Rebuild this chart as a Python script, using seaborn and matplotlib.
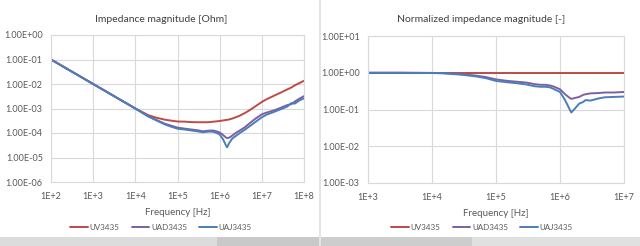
import numpy as np
import pandas as pd
import matplotlib
matplotlib.use("Agg")
import matplotlib.pyplot as plt
import matplotlib.ticker as mticker
from matplotlib.patches import Rectangle
from matplotlib.lines import Line2D
import seaborn as sns

# ---------------- data ----------------
series_names = ["UV3435", "UAD3435", "UAJ3435"]

freq_left = [1e2, 1e3, 1e4, 2e4, 3e4, 5e4, 7e4, 1e5, 1.5e5, 2e5, 3e5, 4e5, 5e5, 6e5,
             7e5, 8e5, 1e6, 1.2e6, 1.4e6, 1.5e6, 1.7e6, 2e6, 2.5e6, 3e6, 4e6, 5e6,
             7e6, 1e7, 1.3e7, 2e7, 3e7, 4e7, 5e7, 6e7, 8e7, 1e8]
z_uv = [0.1, 0.01, 1.0e-3, 5.4e-4, 4.3e-4, 3.5e-4, 3.2e-4, 2.95e-4, 2.9e-4, 2.8e-4,
        2.75e-4, 2.75e-4, 2.75e-4, 2.8e-4, 2.9e-4, 2.95e-4, 3.1e-4, 3.25e-4, 3.4e-4,
        3.45e-4, 3.6e-4, 3.9e-4, 4.5e-4, 5.1e-4, 6.6e-4, 8.3e-4, 1.22e-3, 1.85e-3,
        2.4e-3, 3.4e-3, 4.7e-3, 6.0e-3, 7.2e-3, 8.7e-3, 1.12e-2, 1.35e-2]
z_uad = [0.1, 0.01, 1.0e-3, 4.9e-4, 3.55e-4, 2.4e-4, 2.0e-4, 1.66e-4, 1.5e-4, 1.41e-4,
         1.29e-4, 1.17e-4, 1.23e-4, 1.26e-4, 1.26e-4, 1.2e-4, 1.05e-4, 8.3e-5, 6.6e-5,
         6.2e-5, 6.5e-5, 7.9e-5, 1.05e-4, 1.26e-4, 1.74e-4, 2.4e-4, 3.8e-4, 5.8e-4,
         6.8e-4, 8.5e-4, 1.12e-3, 1.38e-3, 1.5e-3, 1.9e-3, 2.6e-3, 3.2e-3]
z_uaj = [0.1, 0.01, 1.0e-3, 4.8e-4, 3.4e-4, 2.25e-4, 1.82e-4, 1.5e-4, 1.38e-4, 1.29e-4,
         1.17e-4, 1.07e-4, 1.12e-4, 1.15e-4, 1.12e-4, 1.05e-4, 8.7e-5, 5.6e-5, 3.2e-5,
         2.6e-5, 4.0e-5, 6.0e-5, 7.9e-5, 1.0e-4, 1.38e-4, 1.82e-4, 2.8e-4, 4.4e-4,
         5.6e-4, 7.4e-4, 9.8e-4, 1.2e-3, 1.66e-3, 1.58e-3, 2.2e-3, 2.6e-3]

freq_right = [1e3, 3e3, 1e4, 1.5e4, 2e4, 3e4, 5e4, 7e4, 1e5, 1.5e5, 2e5, 3e5, 4e5, 5e5,
              6e5, 7e5, 8e5, 1e6, 1.2e6, 1.4e6, 1.5e6, 1.7e6, 2e6, 2.3e6, 2.5e6, 3e6,
              4e6, 5e6, 7e6, 1e7]
n_uv = [1.0] * 30
n_uad = [1.0, 1.0, 0.99, 0.977, 0.955, 0.91, 0.83, 0.76, 0.66, 0.60, 0.575, 0.54, 0.49,
         0.47, 0.47, 0.45, 0.42, 0.355, 0.26, 0.21, 0.195, 0.205, 0.22, 0.25, 0.26,
         0.275, 0.28, 0.29, 0.29, 0.30]
n_uaj = [1.0, 1.0, 0.985, 0.966, 0.93, 0.88, 0.79, 0.71, 0.60, 0.55, 0.525, 0.48, 0.43,
         0.415, 0.415, 0.40, 0.36, 0.30, 0.18, 0.105, 0.083, 0.105, 0.145, 0.16, 0.18,
         0.175, 0.20, 0.215, 0.22, 0.225]

left_title = "Impedance magnitude [Ohm]"
right_title = "Normalized impedance magnitude [-]"
x_label = "Frequency [Hz]"
left_xticks = [1e2, 1e3, 1e4, 1e5, 1e6, 1e7, 1e8]
left_yticks = [1e-6, 1e-5, 1e-4, 1e-3, 1e-2, 1e-1, 1e0]
right_xticks = [1e3, 1e4, 1e5, 1e6, 1e7]
right_yticks = [1e-3, 1e-2, 1e-1, 1e0, 1e1]

colors = ["#BE4B48", "#7D60A0", "#4A7EBB"]

# ---------------- build tables ----------------
def long_df(freq, vals):
    rows = []
    for name, v in zip(series_names, vals):
        rows.append(pd.DataFrame({"freq": freq, "value": v, "series": name}))
    return pd.concat(rows, ignore_index=True)

df_left = long_df(freq_left, [z_uv, z_uad, z_uaj])
df_right = long_df(freq_right, [n_uv, n_uad, n_uaj])

# ---------------- figure ----------------
sns.set_theme(style="white")
plt.rcParams["font.family"] = ["Lato", "DejaVu Sans"]

W, H = 640, 246
fig = plt.figure(figsize=(W / 100, H / 100), dpi=100)
fig.patch.set_facecolor("white")

def fx(px):
    return px / W

def fy(py):
    return 1 - py / H

# background decorations (screenshot frame)
fig.patches.append(Rectangle((0, 0), fx(217), fy(237), transform=fig.transFigure,
                             facecolor="#dcdcdc", edgecolor="none", zorder=0))
fig.patches.append(Rectangle((fx(217), 0), fx(320 - 217), fy(237), transform=fig.transFigure,
                             facecolor="#c9c9c9", edgecolor="none", zorder=0))
fig.patches.append(Rectangle((fx(320), 0), fx(152), fy(237), transform=fig.transFigure,
                             facecolor="#cdcdcd", edgecolor="none", zorder=0))
fig.patches.append(Rectangle((fx(472), 0), fx(168), fy(237), transform=fig.transFigure,
                             facecolor="#e0e0e0", edgecolor="none", zorder=0))
fig.patches.append(Rectangle((fx(319), 0), fx(2), 1, transform=fig.transFigure,
                             facecolor="#e4e4e4", edgecolor="none", zorder=0))

grid_c = "#d9d9d9"
text_c = "#595959"

def style_axis(ax, xticks, yticks, xlim, ylim):
    ax.set_xscale("log")
    ax.set_yscale("log")
    ax.set_xlim(*xlim)
    ax.set_ylim(*ylim)
    ax.xaxis.set_major_locator(mticker.FixedLocator(xticks))
    ax.yaxis.set_major_locator(mticker.FixedLocator(yticks))
    ax.xaxis.set_minor_locator(mticker.NullLocator())
    ax.yaxis.set_minor_locator(mticker.NullLocator())
    ax.xaxis.set_major_formatter(mticker.FuncFormatter(
        lambda v, p: "1E+%d" % int(round(np.log10(v)))))
    ax.yaxis.set_major_formatter(mticker.FuncFormatter(
        lambda v, p: "%.2fE%+03d" % (1.0, int(round(np.log10(v))))))
    ax.grid(True, color=grid_c, linewidth=0.8)
    for s in ax.spines.values():
        s.set_color(grid_c)
        s.set_linewidth(0.8)
    ax.tick_params(axis="both", length=0, labelsize=6.5, colors=text_c)
    ax.tick_params(axis="x", pad=7)
    ax.tick_params(axis="y", pad=6)
    ax.set_xlabel(x_label, fontsize=7, color=text_c, labelpad=5)
    ax.set_ylabel("")
    ax.set_facecolor("white")

ax1 = fig.add_axes([fx(51), fy(182), fx(304 - 51), fy(35) - fy(182)])
sns.lineplot(data=df_left, x="freq", y="value", hue="series", hue_order=series_names,
             palette=colors, linewidth=1.4, ax=ax1, legend=False, sort=False)
style_axis(ax1, left_xticks, left_yticks, (1e2, 1e8), (1e-6, 1e0))

ax2 = fig.add_axes([fx(368), fy(183), fx(624 - 368), fy(36) - fy(183)])
sns.lineplot(data=df_right, x="freq", y="value", hue="series", hue_order=series_names,
             palette=colors, linewidth=1.4, ax=ax2, legend=False, sort=False)
style_axis(ax2, right_xticks, right_yticks, (1e3, 1e7), (1e-3, 1e1))

fig.text(fx(161), fy(20), left_title, ha="center", va="center", fontsize=7.5,
         color="#404040")
fig.text(fx(481), fy(20), right_title, ha="center", va="center", fontsize=7.5,
         color="#404040")

handles = [Line2D([0], [0], color=c, linewidth=1.4) for c in colors]
for cx in (161, 482):
    fig.legend(handles, series_names, loc="center", bbox_to_anchor=(fx(cx), fy(227)),
               ncol=3, frameon=False, fontsize=5.8, handlelength=2.2,
               handletextpad=0.2, columnspacing=1.5, labelcolor=text_c)

fig.savefig("out.png", dpi=100, facecolor=fig.get_facecolor())
